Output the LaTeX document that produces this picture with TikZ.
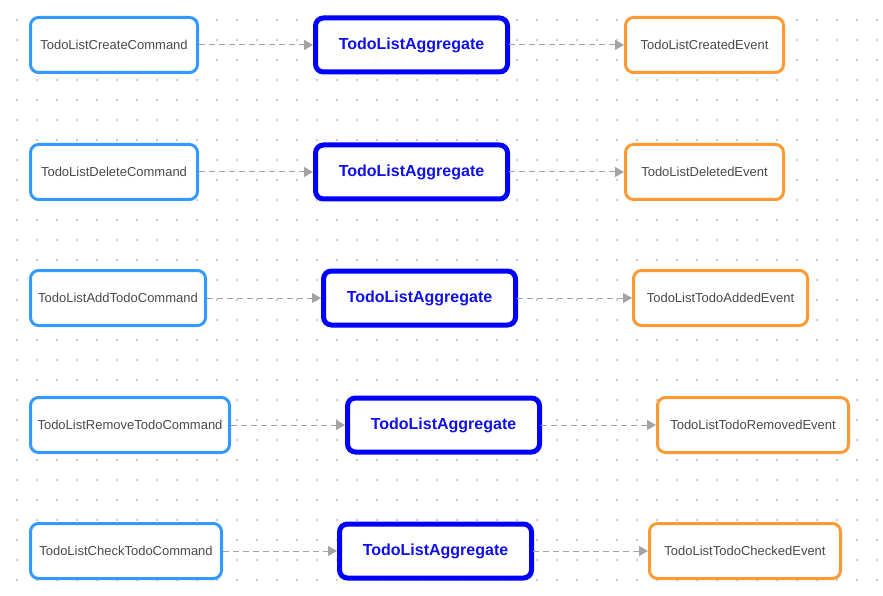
\documentclass[tikz,border=0pt]{standalone}
\usepackage{fontspec}
\setmainfont{Liberation Sans}
\usetikzlibrary{arrows.meta}
\definecolor{cmdblue}{HTML}{3399FF}
\definecolor{aggblue}{HTML}{0000FF}
\definecolor{aggtext}{HTML}{1010E8}
\definecolor{evtorange}{HTML}{FF9933}
\definecolor{txtgray}{HTML}{4A4A4A}
\definecolor{arrowgray}{HTML}{A3A3A3}
\definecolor{dotgray}{HTML}{CCCCCC}
\tikzset{
  box/.style={rectangle, rounded corners=8pt, fill=white, inner sep=0pt, outer sep=0pt},
  cmd/.style={box, draw=cmdblue, line width=3pt, minimum height=55pt,
    text=txtgray, font=\fontsize{13}{15}\selectfont},
  agg/.style={box, draw=aggblue, line width=5pt, minimum width=192pt, minimum height=54pt,
    text=aggtext, font=\fontsize{16}{19}\selectfont\bfseries},
  evt/.style={box, draw=evtorange, line width=3pt, minimum height=55pt,
    text=txtgray, font=\fontsize{13}{15}\selectfont},
  flow/.style={draw=arrowgray, line width=1pt, dash pattern=on 5.5pt off 4.5pt,
    -{Triangle[length=9pt,width=10pt]}, shorten <=1.5pt},
  toagg/.style={flow, shorten >=2.5pt},
  toevt/.style={flow, shorten >=1.5pt},
}
\begin{document}
\begin{tikzpicture}[x=1pt,y=-1pt]
\useasboundingbox (0,0) rectangle (883,596);
\fill[white] (0,0) rectangle (883,596);
% dot grid
\foreach \i in {0,...,43} {
  \foreach \j in {1,...,29} {
    \fill[dotgray] ({17+20*\i-1},{20*\j-1}) rectangle ++(2,2);
  }
}
% row 1
\node[cmd, minimum width=167pt] (c1) at (114,45) {TodoListCreateCommand};
\node[agg] (a1) at (411.5,45) {TodoListAggregate};
\node[evt, minimum width=158pt] (e1) at (704.5,45) {TodoListCreatedEvent};
% row 2
\node[cmd, minimum width=167pt] (c2) at (114,172) {TodoListDeleteCommand};
\node[agg] (a2) at (411.5,172) {TodoListAggregate};
\node[evt, minimum width=158pt] (e2) at (704.5,172) {TodoListDeletedEvent};
% row 3
\node[cmd, minimum width=175pt] (c3) at (118,298) {TodoListAddTodoCommand};
\node[agg] (a3) at (419.5,298) {TodoListAggregate};
\node[evt, minimum width=174pt] (e3) at (720.5,298) {TodoListTodoAddedEvent};
% row 4
\node[cmd, minimum width=199pt] (c4) at (130,425) {TodoListRemoveTodoCommand};
\node[agg] (a4) at (443.5,425) {TodoListAggregate};
\node[evt, minimum width=191pt] (e4) at (753,425) {TodoListTodoRemovedEvent};
% row 5
\node[cmd, minimum width=191pt] (c5) at (126,551) {TodoListCheckTodoCommand};
\node[agg] (a5) at (435.5,551) {TodoListAggregate};
\node[evt, minimum width=191pt] (e5) at (745,551) {TodoListTodoCheckedEvent};
% connectors
\foreach \k in {1,...,5} {
  \draw[toagg] (c\k.east) -- (a\k.west);
  \draw[toevt] (a\k.east) -- (e\k.west);
}
\end{tikzpicture}
\end{document}
